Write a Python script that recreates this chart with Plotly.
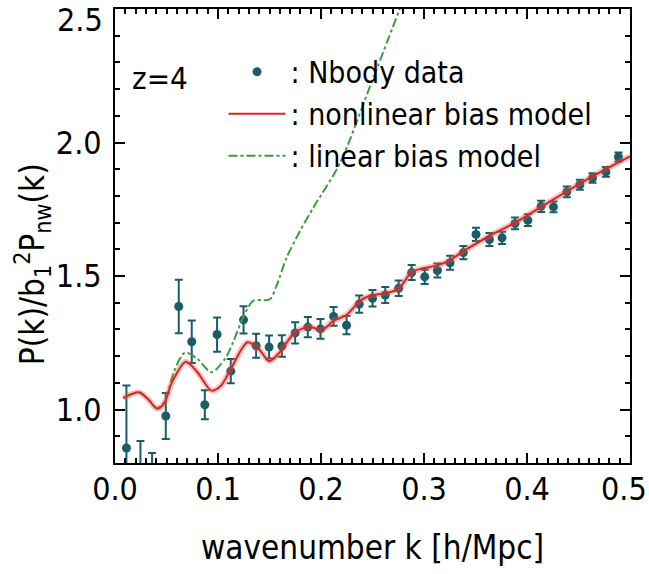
import plotly.graph_objects as go

# ---- data ----
k_data = [0.0111, 0.0247, 0.0360, 0.0493, 0.0619, 0.0745, 0.0872, 0.0991, 0.1124, 0.1248,
          0.1370, 0.1496, 0.1620, 0.1749, 0.1872, 0.1995, 0.2122, 0.2248, 0.2371, 0.2500,
          0.2624, 0.2754, 0.2880, 0.3007, 0.3130, 0.3253, 0.3382, 0.3505, 0.3635, 0.3758,
          0.3884, 0.4008, 0.4137, 0.4257, 0.4387, 0.4513, 0.4636, 0.4766, 0.4888]
p_data = [0.856, 0.730, 0.760, 0.976, 1.386, 1.254, 1.018, 1.281, 1.144, 1.336,
          1.239, 1.234, 1.238, 1.287, 1.309, 1.302, 1.349, 1.316, 1.395, 1.417,
          1.429, 1.454, 1.513, 1.497, 1.521, 1.550, 1.588, 1.656, 1.637, 1.643,
          1.697, 1.709, 1.761, 1.759, 1.815, 1.842, 1.867, 1.890, 1.946]
err_data = [0.234, 0.152, 0.077, 0.086, 0.100, 0.080, 0.054, 0.064, 0.045, 0.051,
            0.045, 0.043, 0.040, 0.040, 0.038, 0.037, 0.035, 0.034, 0.032, 0.031,
            0.030, 0.029, 0.028, 0.027, 0.026, 0.026, 0.025, 0.025, 0.024, 0.023,
            0.022, 0.022, 0.021, 0.020, 0.020, 0.019, 0.018, 0.018, 0.017]

k_nl = [0.008, 0.016, 0.0233, 0.032, 0.0408, 0.048, 0.055, 0.0687, 0.080, 0.0937,
        0.103, 0.1124, 0.1287, 0.140, 0.1497, 0.160, 0.1746, 0.1892, 0.2006, 0.212,
        0.225, 0.2378, 0.2475, 0.2624, 0.2754, 0.288, 0.300, 0.313, 0.3253, 0.3382,
        0.3635, 0.3884, 0.4137, 0.4387, 0.4636, 0.500]
p_nl = [1.043, 1.058, 1.065, 1.040, 1.003, 1.025, 1.100, 1.179, 1.140, 1.071,
        1.090, 1.152, 1.252, 1.225, 1.181, 1.215, 1.289, 1.310, 1.297, 1.332,
        1.355, 1.407, 1.426, 1.436, 1.452, 1.515, 1.530, 1.540, 1.560, 1.593,
        1.650, 1.700, 1.759, 1.817, 1.873, 1.948]

k_lin = [0.008, 0.016, 0.0233, 0.032, 0.0408, 0.048, 0.058, 0.068, 0.080, 0.0937,
         0.1066, 0.1146, 0.1244, 0.1341, 0.1503, 0.1568, 0.1666, 0.1795, 0.1924, 0.2184,
         0.2475, 0.276, 0.285]
p_lin = [1.043, 1.058, 1.065, 1.040, 1.005, 1.030, 1.150, 1.214, 1.190, 1.140,
         1.189, 1.252, 1.345, 1.407, 1.413, 1.463, 1.569, 1.668, 1.755, 1.923,
         2.209, 2.496, 2.590]

x_ticks = [0.0, 0.1, 0.2, 0.3, 0.4]
x_ticktext = ["0.0", "0.1", "0.2", "0.3", "0.4"]
x_last = 0.5
y_ticks = [1.0, 1.5, 2.0]
y_ticktext = ["1.0", "1.5", "2.0"]
y_last = 2.5

FONT = "Liberation Sans Narrow, DejaVu Sans Condensed, DejaVu Sans, sans-serif"
TEAL = "#1a5c68"
RED = "#d9261f"
GREEN = "#3a9e3a"

fig = go.Figure()

fig.add_trace(go.Scatter(
    x=k_data, y=p_data, mode="markers", name=": Nbody data",
    marker=dict(color=TEAL, size=9, symbol="circle"),
    error_y=dict(type="data", array=err_data, color=TEAL, thickness=2, width=4),
    legendrank=1, cliponaxis=True,
))
fig.add_trace(go.Scatter(
    x=k_lin, y=p_lin, mode="lines", name=": linear bias model",
    line=dict(color=GREEN, width=2, dash="dashdot", shape="spline", smoothing=0.8),
    legendrank=3,
))
fig.add_trace(go.Scatter(
    x=k_nl, y=p_nl, mode="lines", showlegend=False, hoverinfo="skip",
    line=dict(color="rgba(235,90,90,0.35)", width=6, shape="spline", smoothing=0.8),
))
fig.add_trace(go.Scatter(
    x=k_nl, y=p_nl, mode="lines", name=": nonlinear bias model",
    line=dict(color=RED, width=2, shape="spline", smoothing=0.8),
    legendrank=2,
))

axis_common = dict(
    showline=True, linecolor="black", linewidth=2, mirror="allticks",
    ticks="inside", ticklen=10, tickwidth=2, tickcolor="black",
    showgrid=False, zeroline=False, automargin=False,
    tickfont=dict(family=FONT, size=32, color="black"),
)

fig.update_xaxes(range=[0, 0.5], tickvals=x_ticks, ticktext=x_ticktext,
                 minor=dict(dtick=0.01, ticks="inside", ticklen=5, tickwidth=1.5, tickcolor="black"),
                 ticklabelstandoff=-3, **axis_common)
fig.update_yaxes(range=[0.8, 2.5], tickvals=y_ticks, ticktext=y_ticktext,
                 minor=dict(dtick=0.1, ticks="inside", ticklen=5, tickwidth=1.5, tickcolor="black"),
                 ticklabelstandoff=5, **axis_common)

annotations = [
    dict(text=f"{y_last:.1f}", xref="paper", yref="y", x=0, y=y_last, xanchor="right", yanchor="middle",
         xshift=-10, yshift=-11, showarrow=False, font=dict(family=FONT, size=32, color="black")),
    dict(text=f"{x_last:.1f}", xref="x", yref="paper", x=x_last, y=0, xanchor="center", yanchor="top",
         xshift=-6, yshift=-5, showarrow=False, font=dict(family=FONT, size=32, color="black")),
    dict(text="wavenumber k [h/Mpc]", xref="paper", yref="paper", x=0.5, y=-0.186,
         xanchor="center", yanchor="middle", showarrow=False,
         font=dict(family=FONT, size=33, color="black")),
    dict(text="P(k)/b<sub>1</sub><sup>2</sup>P<sub>nw</sub>(k)", xref="paper", yref="paper",
         x=-0.16, y=0.437, xanchor="center", yanchor="middle", textangle=-90, showarrow=False,
         font=dict(family=FONT, size=33, color="black")),
    dict(text="z=4", xref="paper", yref="paper", x=0.029, y=0.848,
         xanchor="left", yanchor="middle", showarrow=False,
         font=dict(family=FONT, size=31, color="black")),
]

fig.update_layout(
    width=649, height=574,
    margin=dict(l=115, r=19, t=9, b=111, autoexpand=False),
    paper_bgcolor="white", plot_bgcolor="white",
    showlegend=True,
    legend=dict(x=0.2107, y=0.919, xanchor="left", yanchor="top",
                bgcolor="rgba(0,0,0,0)", itemwidth=57,
                font=dict(family=FONT, size=30, color="black"),
                tracegroupgap=0),
    annotations=annotations,
)

fig.write_html("out.html")
